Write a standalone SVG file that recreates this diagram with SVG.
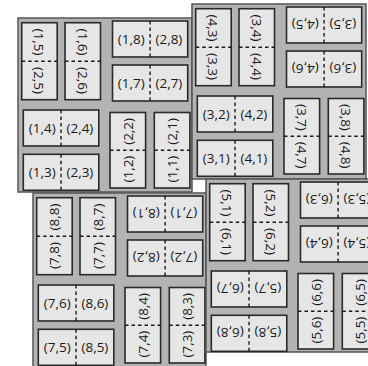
<svg xmlns="http://www.w3.org/2000/svg" width="368" height="366" viewBox="0 0 368 366">
<style>
.panel{fill:#b3b3b5;stroke:#555;stroke-width:1.5}
.box{fill:#e6e6e6;stroke:#2a2a2a;stroke-width:1.6}
.div{stroke:#1a1a1a;stroke-width:1.4;stroke-dasharray:3.5 3;fill:none}
text{font-family:"Open Sans","Liberation Sans",sans-serif;font-size:13.5px;fill:#1a1a1a;text-anchor:middle}
</style>
<rect width="368" height="366" fill="#fff"/>
<!-- Panel 1 -->
<g id="panel1" transform="translate(18,18)">
<rect class="panel" x="0" y="0" width="174" height="174"/>
<g id="b15"><rect class="box" x="3.7" y="4.7" width="35.5" height="77"/><line class="div" x1="3.7" y1="43.2" x2="39.2" y2="43.2"/><text transform="translate(21.45 23.95) rotate(90)" y="5">(1,5)</text><text transform="translate(21.45 62.45) rotate(90)" y="5">(2,5)</text></g>
<g id="b16"><rect class="box" x="47" y="4.7" width="35.5" height="77"/><line class="div" x1="47" y1="43.2" x2="82.5" y2="43.2"/><text transform="translate(64.75 23.95) rotate(90)" y="5">(1,6)</text><text transform="translate(64.75 62.45) rotate(90)" y="5">(2,6)</text></g>
<g id="b18"><rect class="box" x="94.5" y="3" width="75.2" height="36"/><line class="div" x1="132.1" y1="3" x2="132.1" y2="39"/><text transform="translate(113.3 21)" y="5">(1,8)</text><text transform="translate(150.9 21)" y="5">(2,8)</text></g>
<g id="b17"><rect class="box" x="94.5" y="47" width="75.2" height="36"/><line class="div" x1="132.1" y1="47" x2="132.1" y2="83"/><text transform="translate(113.3 65)" y="5">(1,7)</text><text transform="translate(150.9 65)" y="5">(2,7)</text></g>
<g id="b14"><rect class="box" x="5.3" y="92" width="75.5" height="36"/><line class="div" x1="43.05" y1="92" x2="43.05" y2="128"/><text transform="translate(24.2 110)" y="5">(1,4)</text><text transform="translate(61.9 110)" y="5">(2,4)</text></g>
<g id="b13"><rect class="box" x="5.3" y="136.3" width="75.5" height="36"/><line class="div" x1="43.05" y1="136.3" x2="43.05" y2="172.3"/><text transform="translate(24.2 154.3)" y="5">(1,3)</text><text transform="translate(61.9 154.3)" y="5">(2,3)</text></g>
<g id="b12"><rect class="box" x="92" y="94.5" width="35.6" height="75.5"/><line class="div" x1="92" y1="132.25" x2="127.6" y2="132.25"/><text transform="translate(109.8 113.4) rotate(-90)" y="5">(2,2)</text><text transform="translate(109.8 151.1) rotate(-90)" y="5">(1,2)</text></g>
<g id="b11"><rect class="box" x="136.3" y="94.5" width="35.6" height="75.5"/><line class="div" x1="136.3" y1="132.25" x2="171.9" y2="132.25"/><text transform="translate(154.1 113.4) rotate(-90)" y="5">(2,1)</text><text transform="translate(154.1 151.1) rotate(-90)" y="5">(1,1)</text></g>
</g>
<!-- Panel 2 -->
<g id="panel2" transform="translate(192,4)">
<rect class="panel" x="0" y="0" width="174" height="175"/>
<g id="b33"><rect class="box" x="3.7" y="4.7" width="35.5" height="77"/><line class="div" x1="3.7" y1="43.2" x2="39.2" y2="43.2"/><text transform="translate(21.45 23.95) rotate(90)" y="5">(4,3)</text><text transform="translate(21.45 62.45) rotate(90)" y="5">(3,3)</text></g>
<g id="b34"><rect class="box" x="47" y="4.7" width="35.5" height="77"/><line class="div" x1="47" y1="43.2" x2="82.5" y2="43.2"/><text transform="translate(64.75 23.95) rotate(90)" y="5">(3,4)</text><text transform="translate(64.75 62.45) rotate(90)" y="5">(4,4)</text></g>
<g id="b35"><rect class="box" x="94.5" y="3" width="75.2" height="36"/><line class="div" x1="132.1" y1="3" x2="132.1" y2="39"/><text transform="translate(113.3 21) rotate(180)" y="5">(4,5)</text><text transform="translate(150.9 21) rotate(180)" y="5">(3,5)</text></g>
<g id="b36"><rect class="box" x="94.5" y="47" width="75.2" height="36"/><line class="div" x1="132.1" y1="47" x2="132.1" y2="83"/><text transform="translate(113.3 65) rotate(180)" y="5">(4,6)</text><text transform="translate(150.9 65) rotate(180)" y="5">(3,6)</text></g>
<g id="b32"><rect class="box" x="5.3" y="92" width="75.5" height="36"/><line class="div" x1="43.05" y1="92" x2="43.05" y2="128"/><text transform="translate(24.2 110)" y="5">(3,2)</text><text transform="translate(61.9 110)" y="5">(4,2)</text></g>
<g id="b31"><rect class="box" x="5.3" y="136.3" width="75.5" height="36"/><line class="div" x1="43.05" y1="136.3" x2="43.05" y2="172.3"/><text transform="translate(24.2 154.3)" y="5">(3,1)</text><text transform="translate(61.9 154.3)" y="5">(4,1)</text></g>
<g id="b37"><rect class="box" x="92" y="94.5" width="35.6" height="75.5"/><line class="div" x1="92" y1="132.25" x2="127.6" y2="132.25"/><text transform="translate(109.8 113.4) rotate(90)" y="5">(3,7)</text><text transform="translate(109.8 151.1) rotate(90)" y="5">(4,7)</text></g>
<g id="b38"><rect class="box" x="136.3" y="94.5" width="35.6" height="75.5"/><line class="div" x1="136.3" y1="132.25" x2="171.9" y2="132.25"/><text transform="translate(154.1 113.4) rotate(90)" y="5">(3,8)</text><text transform="translate(154.1 151.1) rotate(90)" y="5">(4,8)</text></g>
</g>
<!-- Panel 3 -->
<g id="panel3" transform="translate(33,193)">
<rect class="panel" x="0" y="0" width="173" height="180"/>
<g id="b78"><rect class="box" x="3.7" y="4.7" width="35.5" height="77"/><line class="div" x1="3.7" y1="43.2" x2="39.2" y2="43.2"/><text transform="translate(21.45 23.95) rotate(-90)" y="5">(8,8)</text><text transform="translate(21.45 62.45) rotate(-90)" y="5">(7,8)</text></g>
<g id="b77"><rect class="box" x="47" y="4.7" width="35.5" height="77"/><line class="div" x1="47" y1="43.2" x2="82.5" y2="43.2"/><text transform="translate(64.75 23.95) rotate(-90)" y="5">(8,7)</text><text transform="translate(64.75 62.45) rotate(-90)" y="5">(7,7)</text></g>
<g id="b71"><rect class="box" x="94.5" y="3" width="75.2" height="36"/><line class="div" x1="132.1" y1="3" x2="132.1" y2="39"/><text transform="translate(113.3 21) rotate(180)" y="5">(8,1)</text><text transform="translate(150.9 21) rotate(180)" y="5">(7,1)</text></g>
<g id="b72"><rect class="box" x="94.5" y="47" width="75.2" height="36"/><line class="div" x1="132.1" y1="47" x2="132.1" y2="83"/><text transform="translate(113.3 65) rotate(180)" y="5">(8,2)</text><text transform="translate(150.9 65) rotate(180)" y="5">(7,2)</text></g>
<g id="b76"><rect class="box" x="5.3" y="92" width="75.5" height="36"/><line class="div" x1="43.05" y1="92" x2="43.05" y2="128"/><text transform="translate(24.2 110)" y="5">(7,6)</text><text transform="translate(61.9 110)" y="5">(8,6)</text></g>
<g id="b75"><rect class="box" x="5.3" y="136.3" width="75.5" height="36"/><line class="div" x1="43.05" y1="136.3" x2="43.05" y2="172.3"/><text transform="translate(24.2 154.3)" y="5">(7,5)</text><text transform="translate(61.9 154.3)" y="5">(8,5)</text></g>
<g id="b74"><rect class="box" x="92" y="94.5" width="35.6" height="75.5"/><line class="div" x1="92" y1="132.25" x2="127.6" y2="132.25"/><text transform="translate(109.8 113.4) rotate(-90)" y="5">(8,4)</text><text transform="translate(109.8 151.1) rotate(-90)" y="5">(7,4)</text></g>
<g id="b73"><rect class="box" x="136.3" y="94.5" width="35.6" height="75.5"/><line class="div" x1="136.3" y1="132.25" x2="171.9" y2="132.25"/><text transform="translate(154.1 113.4) rotate(-90)" y="5">(8,3)</text><text transform="translate(154.1 151.1) rotate(-90)" y="5">(7,3)</text></g>
</g>
<!-- Panel 4 -->
<g id="panel4" transform="translate(206,179)">
<rect class="panel" x="0" y="0" width="180" height="173"/>
<g id="b51"><rect class="box" x="3.7" y="4.7" width="35.5" height="77"/><line class="div" x1="3.7" y1="43.2" x2="39.2" y2="43.2"/><text transform="translate(21.45 23.95) rotate(90)" y="5">(5,1)</text><text transform="translate(21.45 62.45) rotate(90)" y="5">(6,1)</text></g>
<g id="b52"><rect class="box" x="47" y="4.7" width="35.5" height="77"/><line class="div" x1="47" y1="43.2" x2="82.5" y2="43.2"/><text transform="translate(64.75 23.95) rotate(90)" y="5">(5,2)</text><text transform="translate(64.75 62.45) rotate(90)" y="5">(6,2)</text></g>
<g id="b53"><rect class="box" x="94.5" y="3" width="75.2" height="36"/><line class="div" x1="132.1" y1="3" x2="132.1" y2="39"/><text transform="translate(113.3 21) rotate(180)" y="5">(6,3)</text><text transform="translate(150.9 21) rotate(180)" y="5">(5,3)</text></g>
<g id="b54"><rect class="box" x="94.5" y="47" width="75.2" height="36"/><line class="div" x1="132.1" y1="47" x2="132.1" y2="83"/><text transform="translate(113.3 65) rotate(180)" y="5">(6,4)</text><text transform="translate(150.9 65) rotate(180)" y="5">(5,4)</text></g>
<g id="b57"><rect class="box" x="5.3" y="92" width="75.5" height="36"/><line class="div" x1="43.05" y1="92" x2="43.05" y2="128"/><text transform="translate(24.2 110) rotate(180)" y="5">(6,7)</text><text transform="translate(61.9 110) rotate(180)" y="5">(5,7)</text></g>
<g id="b58"><rect class="box" x="5.3" y="136.3" width="75.5" height="36"/><line class="div" x1="43.05" y1="136.3" x2="43.05" y2="172.3"/><text transform="translate(24.2 154.3) rotate(180)" y="5">(6,8)</text><text transform="translate(61.9 154.3) rotate(180)" y="5">(5,8)</text></g>
<g id="b56"><rect class="box" x="92" y="94.5" width="35.6" height="75.5"/><line class="div" x1="92" y1="132.25" x2="127.6" y2="132.25"/><text transform="translate(109.8 113.4) rotate(-90)" y="5">(6,6)</text><text transform="translate(109.8 151.1) rotate(-90)" y="5">(5,6)</text></g>
<g id="b55"><rect class="box" x="136.3" y="94.5" width="35.6" height="75.5"/><line class="div" x1="136.3" y1="132.25" x2="171.9" y2="132.25"/><text transform="translate(154.1 113.4) rotate(-90)" y="5">(6,5)</text><text transform="translate(154.1 151.1) rotate(-90)" y="5">(5,5)</text></g>
</g>
<g id="connectors"/>
</svg>
